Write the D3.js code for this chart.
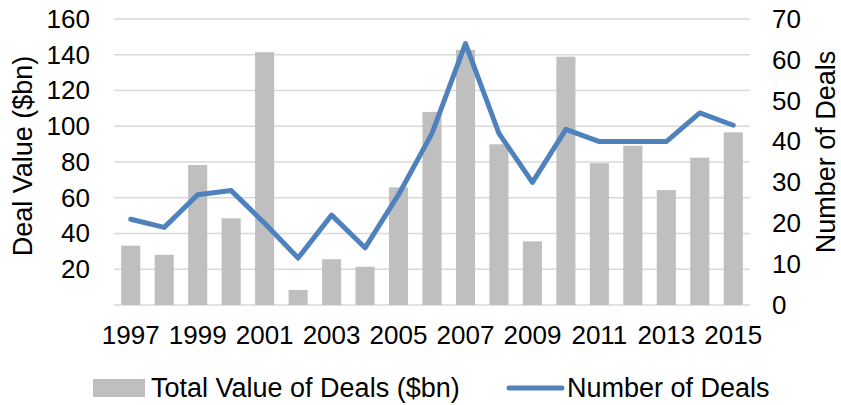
<!DOCTYPE html>
<html>
<head>
<meta charset="utf-8">
<script src="https://cdn.jsdelivr.net/npm/d3@7"></script>
<style>
  body { margin: 0; background: #fff; }
  svg text { font-family: "Liberation Sans", Arial, sans-serif; fill: #000; }
</style>
</head>
<body>
<div id="main"></div>
<script>
// data
let years = [1997, 1998, 1999, 2000, 2001, 2002, 2003, 2004, 2005, 2006,
             2007, 2008, 2009, 2010, 2011, 2012, 2013, 2014, 2015]
let dealValues = [33.2, 28.1, 78.3, 48.5, 141.4, 8.4, 25.6, 21.4, 65.8, 108,
                  142.7, 89.9, 35.6, 138.9, 79.3, 89.1, 64.3, 82.4, 96.6]
let dealCounts = [21, 19, 27, 28, 20, 11.5, 22, 14, 27, 42,
                  64, 42, 30, 43, 40, 40, 40, 47, 44]
let leftTicks = [0, 20, 40, 60, 80, 100, 120, 140, 160]
let rightTicks = [0, 10, 20, 30, 40, 50, 60, 70]
let xLabels = [1997, 1999, 2001, 2003, 2005, 2007, 2009, 2011, 2013, 2015]

let width = 841
let height = 405
let plotLeft = 114, plotRight = 750, plotTop = 19, plotBottom = 305
let fontSize = '26px'

let svg = d3.select('#main')
            .append('svg')
            .attr('width', width)
            .attr('height', height)

let xScale = d3.scaleBand()
               .domain(years)
               .range([plotLeft, plotRight])
               .paddingInner(0.43)
               .paddingOuter(0.215)

let yScale = d3.scaleLinear().domain([0, 160]).range([plotBottom, plotTop])
let y2Scale = d3.scaleLinear().domain([0, 70]).range([plotBottom, plotTop])

// gridlines
svg.append('g')
   .selectAll('line')
   .data(leftTicks)
   .enter()
   .append('line')
   .attr('x1', plotLeft)
   .attr('x2', plotRight)
   .attr('y1', (d) => yScale(d))
   .attr('y2', (d) => yScale(d))
   .style('stroke', '#d9d9d9')
   .style('stroke-width', 1.5)

// bars
svg.append('g')
   .selectAll('rect')
   .data(years)
   .enter()
   .append('rect')
   .attr('x', (d) => xScale(d))
   .attr('width', xScale.bandwidth())
   .attr('y', (d, i) => yScale(dealValues[i]))
   .attr('height', (d, i) => plotBottom - yScale(dealValues[i]))
   .style('fill', '#bfbfbf')

// line
let line = d3.line()
             .x((d, i) => xScale(years[i]) + xScale.bandwidth() / 2)
             .y((d) => y2Scale(d))

svg.append('path')
   .datum(dealCounts)
   .attr('d', line)
   .style('fill', 'none')
   .style('stroke', '#4f81bd')
   .style('stroke-width', 5)
   .style('stroke-linejoin', 'round')
   .style('stroke-linecap', 'round')

// axes
let yAxis = d3.axisLeft(yScale)
              .tickValues(leftTicks.filter((d) => d > 0))
              .tickSize(0)
              .tickPadding(24)

let y2Axis = d3.axisRight(y2Scale)
               .tickValues(rightTicks)
               .tickSize(0)
               .tickPadding(22)

let xAxis = d3.axisBottom(xScale)
              .tickValues(xLabels)
              .tickSize(0)
              .tickPadding(21)

let gy = svg.append('g')
            .attr('transform', `translate(${plotLeft},0)`)
            .call(yAxis)
let gy2 = svg.append('g')
             .attr('transform', `translate(${plotRight},0)`)
             .call(y2Axis)
let gx = svg.append('g')
            .attr('transform', `translate(0,${plotBottom})`)
            .call(xAxis)

;[gy, gy2, gx].forEach((g) => {
    g.select('.domain').remove()
    g.selectAll('text')
     .style('font-family', '"Liberation Sans", Arial, sans-serif')
     .style('font-size', fontSize)
     .style('fill', '#000')
})

// axis titles
svg.append('text')
   .attr('transform', 'translate(23,156) rotate(-90)')
   .attr('text-anchor', 'middle')
   .attr('dy', '0.35em')
   .style('font-size', '27px')
   .text('Deal Value ($bn)')

svg.append('text')
   .attr('transform', 'translate(826,152) rotate(-90)')
   .attr('text-anchor', 'middle')
   .attr('dy', '0.35em')
   .style('font-size', '27px')
   .text('Number of Deals')

// legend
let legend = svg.append('g').attr('id', 'legend')

legend.append('rect')
      .attr('x', 93)
      .attr('y', 379)
      .attr('width', 52)
      .attr('height', 18)
      .style('fill', '#bfbfbf')

legend.append('text')
      .attr('x', 151)
      .attr('y', 388)
      .attr('dy', '0.35em')
      .style('font-size', '27px')
      .text('Total Value of Deals ($bn)')

legend.append('line')
      .attr('x1', 509)
      .attr('x2', 562)
      .attr('y1', 388)
      .attr('y2', 388)
      .style('stroke', '#4f81bd')
      .style('stroke-width', 5)
      .style('stroke-linecap', 'round')

legend.append('text')
      .attr('x', 567)
      .attr('y', 388)
      .attr('dy', '0.35em')
      .style('font-size', '27px')
      .text('Number of Deals')
</script>
</body>
</html>
